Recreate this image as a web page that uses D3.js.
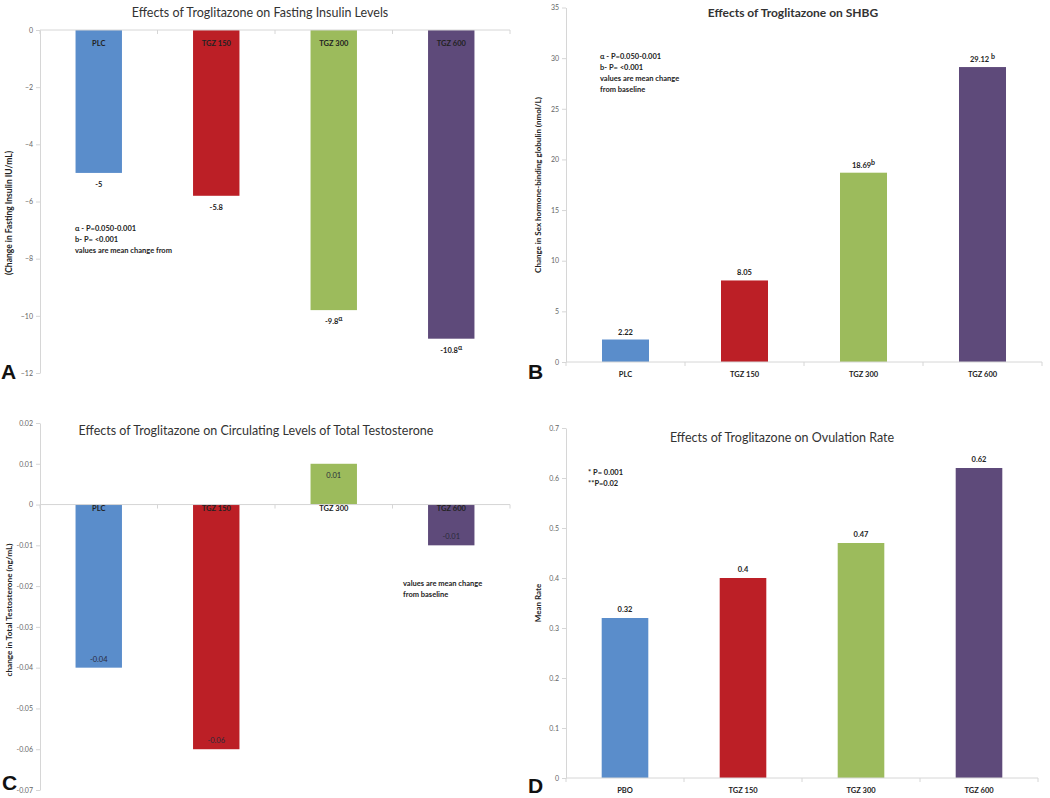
<!DOCTYPE html>
<html><head><meta charset="utf-8">
<script src="https://cdn.jsdelivr.net/npm/d3@7"></script>
<style>
html,body{margin:0;padding:0;background:#fff;}
svg{display:block;}
</style></head>
<body><svg id="c" width="1050" height="798"></svg>
<script>
// ---------- DATA ----------
const groupColors = ["#5a8dcb", "#bc1f26", "#9cbb5c", "#5e4a7a"];

const categoriesA = ["PLC", "TGZ 150", "TGZ 300", "TGZ 600"];
const insulinChange = [-5, -5.8, -9.8, -10.8];
const insulinValueLabels = ["-5", "-5.8", "-9.8", "-10.8"];
const insulinSup = ["", "", "α", "α"];
const insulinTicks = [0, -2, -4, -6, -8, -10, -12];

const categoriesB = ["PLC", "TGZ 150", "TGZ 300", "TGZ 600"];
const shbgChange = [2.22, 8.05, 18.69, 29.12];
const shbgValueLabels = ["2.22", "8.05", "18.69", "29.12 "];
const shbgSup = ["", "", "b", "b"];
const shbgTicks = [0, 5, 10, 15, 20, 25, 30, 35];

const categoriesC = ["PLC", "TGZ 150", "TGZ 300", "TGZ 600"];
const testoChange = [-0.04, -0.06, 0.01, -0.01];
const testoValueLabels = ["-0.04", "-0.06", "0.01", "-0.01"];
const testoTicks = [0.02, 0.01, 0, -0.01, -0.02, -0.03, -0.04, -0.05, -0.06, -0.07];
const testoTickLabels = ["0.02", "0.01", "0", "-0.01", "-0.02", "-0.03", "-0.04", "-0.05", "-0.06", "-0.07"];

const categoriesD = ["PBO", "TGZ 150", "TGZ 300", "TGZ 600"];
const ovulationRate = [0.32, 0.4, 0.47, 0.62];
const ovulationValueLabels = ["0.32", "0.4", "0.47", "0.62"];
const ovulationTicks = [0, 0.1, 0.2, 0.3, 0.4, 0.5, 0.6, 0.7];

const notesA = ["α - P=0.050-0.001", "b- P= <0.001", "values are mean change from"];
const notesB = ["α - P=0.050-0.001", "b- P= <0.001", "values are mean change", "from baseline"];
const notesC = ["values are mean change", "from baseline"];
const notesD = ["* P= 0.001", "**P=0.02"];

// ---------- DRAW ----------
const svg = d3.select("#c");
const FONT = "Lato, 'Open Sans', sans-serif";

function panel(o) {
  const g = svg.append("g");
  const x = d3.scaleBand().domain(o.cats).range(o.xr).paddingInner(0.605).paddingOuter(0.3025);
  const y = d3.scaleLinear().domain(o.yd).range(o.yr);
  const y0 = y(0);

  // y axis
  const ya = d3.axisLeft(y).tickValues(o.ticks).tickSize(4).tickSizeOuter(0)
    .tickFormat((d, i) => o.tickLabels ? o.tickLabels[i] : d3.format("")(d));
  const yg = g.append("g").attr("transform", `translate(${o.xr[0]},0)`).call(ya);
  yg.select(".domain").attr("stroke", "#d6d6d6");
  yg.selectAll(".tick line").attr("stroke", "#d6d6d6");
  yg.selectAll(".tick text").attr("fill", "#666").attr("font-size", 7).attr("font-family", FONT).attr("x", -7);

  // bars
  g.selectAll("rect.bar").data(o.vals).join("rect")
    .attr("x", (d, i) => x(o.cats[i]))
    .attr("width", x.bandwidth())
    .attr("y", d => Math.min(y(d), y0))
    .attr("height", d => Math.abs(y(d) - y0))
    .attr("fill", (d, i) => groupColors[i]);

  // x axis line at zero
  g.append("line").attr("x1", o.xr[0]).attr("x2", o.xr[1]).attr("y1", y0).attr("y2", y0).attr("stroke", "#d6d6d6");
  const bounds = d3.range(o.cats.length + 1).map(i => o.xr[0] + i * x.step());
  g.selectAll("line.xt").data(bounds).join("line")
    .attr("x1", d => d).attr("x2", d => d).attr("y1", y0).attr("y2", y0 + 4).attr("stroke", "#d6d6d6");

  // category labels
  g.selectAll("text.cat").data(o.cats).join("text")
    .attr("x", d => x(d) + x.bandwidth() / 2)
    .attr("y", (d, i) => o.catY(i))
    .attr("text-anchor", "middle").attr("dominant-baseline", "central")
    .attr("font-family", FONT).attr("font-size", 7.5).attr("font-weight", "bold")
    .attr("fill", "#222").text(d => d);

  // value labels
  const vt = g.selectAll("text.val").data(o.vals).join("text")
    .attr("x", (d, i) => x(o.cats[i]) + x.bandwidth() / 2)
    .attr("y", (d, i) => o.valY(d, i, y))
    .attr("text-anchor", "middle").attr("dominant-baseline", "central")
    .attr("font-family", FONT).attr("font-size", 7.5).attr("font-weight", o.valWeight || "bold")
    .attr("fill", o.valFill || "#222");
  vt.append("tspan").attr("fill", o.valFill || "#222").text((d, i) => o.valLabels[i]);
  if (o.sup) vt.append("tspan").attr("dy", -3).attr("font-size", 7).attr("fill", "#222").text((d, i) => o.sup[i]);

  // title
  g.append("text").attr("x", o.title[1]).attr("y", o.title[2]).attr("text-anchor", "middle")
    .attr("dominant-baseline", "central").attr("font-family", FONT)
    .attr("font-size", o.titleSize || 12.5).attr("font-weight", o.titleWeight || "normal")
    .attr("fill", "#333").text(o.title[0]);

  // y axis title
  g.append("text").attr("transform", `translate(${o.yt[1]},${o.yt[2]}) rotate(-90)`)
    .attr("text-anchor", "middle").attr("dominant-baseline", "central")
    .attr("font-family", FONT).attr("font-size", o.ytSize || 8).attr("font-weight", "bold")
    .attr("fill", "#222").text(o.yt[0]);

  // notes
  g.selectAll("text.note").data(o.notes).join("text")
    .attr("x", o.noteXY[0]).attr("y", (d, i) => o.noteXY[1] + i * 11)
    .attr("dominant-baseline", "central")
    .attr("font-family", FONT).attr("font-size", 7.5).attr("font-weight", "bold")
    .attr("fill", "#222").text(d => d);

  // panel letter
  g.append("text").attr("x", o.letter[1]).attr("y", o.letter[2])
    .attr("font-family", "'Liberation Sans', Arial, sans-serif").attr("font-size", 21).attr("font-weight", "bold")
    .attr("fill", "#111").text(o.letter[0]);
}

// Panel A
panel({
  cats: categoriesA, vals: insulinChange, valLabels: insulinValueLabels, sup: insulinSup,
  xr: [40, 510], yd: [0, -12], yr: [30, 373], ticks: insulinTicks,
  catY: i => 43, valY: (d, i, y) => y(d) + 11,
  title: ["Effects of Troglitazone on Fasting Insulin Levels", 260, 12],
  yt: ["(Change in Fasting Insulin IU/mL)", 9, 213], ytSize: 8.5,
  notes: notesA, noteXY: [75, 228], letter: ["A", 1, 379]
});

// Panel B
panel({
  cats: categoriesB, vals: shbgChange, valLabels: shbgValueLabels, sup: shbgSup,
  xr: [566, 1042], yd: [0, 35], yr: [362, 7.5], ticks: shbgTicks,
  catY: i => 374, valY: (d, i, y) => y(d) - 8,
  title: ["Effects of Troglitazone on SHBG", 793, 12], titleWeight: "bold", titleSize: 12,
  yt: ["Change in Sex hormone-binding globulin (nmol/L)", 538, 185], ytSize: 8,
  notes: notesB, noteXY: [600, 56], letter: ["B", 528, 379]
});

// Panel C
panel({
  cats: categoriesC, vals: testoChange, valLabels: testoValueLabels,
  xr: [40, 510], yd: [0.02, -0.07], yr: [423, 790], ticks: testoTicks, tickLabels: testoTickLabels,
  catY: i => 508, valY: (d, i, y) => d < 0 ? y(d) - 9 : y(d) + 11,
  valWeight: "normal", valFill: "#2a2a3a",
  title: ["Effects of Troglitazone on Circulating Levels of Total Testosterone", 256, 430],
  yt: ["change in Total Testosterone (ng/mL)", 9, 610], ytSize: 8.2,
  notes: notesC, noteXY: [403, 583], letter: ["C", 2, 790]
});

// Panel D
panel({
  cats: categoriesD, vals: ovulationRate, valLabels: ovulationValueLabels,
  xr: [566, 1038], yd: [0, 0.7], yr: [778, 428], ticks: ovulationTicks,
  catY: i => 790, valY: (d, i, y) => y(d) - 9,
  title: ["Effects of Troglitazone on Ovulation Rate", 782, 437],
  yt: ["Mean Rate", 538, 603],
  notes: notesD, noteXY: [588, 472], letter: ["D", 528, 793]
});
</script>
</body></html>
